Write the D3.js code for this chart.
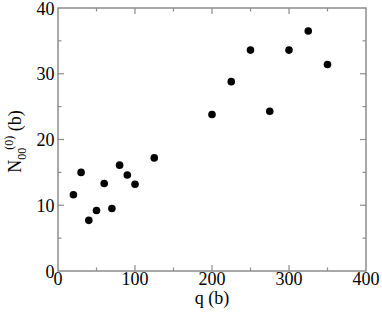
<!DOCTYPE html>
<html><head><meta charset="utf-8">
<script src="https://cdn.jsdelivr.net/npm/d3@7"></script>
</head><body style="margin:0">
<script>
const qValues = [20, 30, 40, 50, 60, 70, 80, 90, 100, 125, 200, 225, 250, 275, 300, 325, 350];
const nValues = [11.6, 15.0, 7.7, 9.2, 13.3, 9.5, 16.1, 14.6, 13.2, 17.2, 23.8, 28.8, 33.6, 24.3, 33.6, 36.5, 31.4];
const xTicks = [0, 100, 200, 300, 400];
const yTicks = [0, 10, 20, 30, 40];
const xMinor = [50, 150, 250, 350];
const yMinor = [5, 15, 25, 35];

const W = 382, H = 312;
const m = {l: 58, r: 16, t: 8, b: 41};
const svg = d3.select("body").append("svg").attr("width", W).attr("height", H);
const x = d3.scaleLinear().domain([0, 400]).range([m.l, W - m.r]);
const y = d3.scaleLinear().domain([0, 40]).range([H - m.b, m.t]);
const axisColor = "#8c8c8c";

function serif(sel) { return sel.style("font-family", '"Liberation Serif"').attr("font-family", "Liberation Serif"); }

const tg = svg.append("g").attr("stroke", axisColor).attr("stroke-width", 1.2);
const tl = 6, tm = 3.5;
[[xTicks.slice(1, -1), tl], [xMinor, tm]].forEach(([vals, len]) => {
  tg.selectAll(null).data(vals).join("line").attr("x1", x).attr("x2", x).attr("y1", y(0)).attr("y2", y(0) - len);
  tg.selectAll(null).data(vals).join("line").attr("x1", x).attr("x2", x).attr("y1", y(40)).attr("y2", y(40) + len);
});
[[yTicks.slice(1, -1), tl], [yMinor, tm]].forEach(([vals, len]) => {
  tg.selectAll(null).data(vals).join("line").attr("y1", y).attr("y2", y).attr("x1", x(0)).attr("x2", x(0) + len);
  tg.selectAll(null).data(vals).join("line").attr("y1", y).attr("y2", y).attr("x1", x(400)).attr("x2", x(400) - len);
});
svg.append("rect").attr("x", x(0)).attr("y", y(40)).attr("width", x(400) - x(0)).attr("height", y(0) - y(40))
  .attr("fill", "none").attr("stroke", axisColor).attr("stroke-width", 1.5);

serif(svg.append("g").selectAll("text").data(xTicks).join("text"))
  .attr("x", d => x(d)).attr("y", y(0) + 13.5).attr("text-anchor", "middle")
  .attr("font-size", 18).text(d => String(d));
serif(svg.append("g").selectAll("text").data(yTicks).join("text"))
  .attr("x", x(0) - 3.5).attr("y", d => y(d) + 6.5).attr("text-anchor", "end")
  .attr("font-size", 18).text(d => String(d));

serif(svg.append("text")).attr("x", (x(0) + x(400)) / 2).attr("y", 304).attr("text-anchor", "middle")
  .attr("font-size", 18).text("q (b)");

const yl = serif(svg.append("text")).attr("transform", `translate(21,${(y(0) + y(40)) / 2 + 2}) rotate(-90)`)
  .attr("text-anchor", "middle").attr("font-size", 18);
yl.append("tspan").text("N");
yl.append("tspan").attr("dy", 5).attr("font-size", 12).text("00");
yl.append("tspan").attr("dy", -13).attr("dx", -2).attr("font-size", 12).text("(0)");
yl.append("tspan").attr("dy", 8).text(" (b)");

svg.append("g").selectAll("circle").data(qValues.map((q, i) => [q, nValues[i]])).join("circle")
  .attr("cx", d => x(d[0])).attr("cy", d => y(d[1])).attr("r", 3.8).attr("fill", "#000");
</script>
</body></html>
